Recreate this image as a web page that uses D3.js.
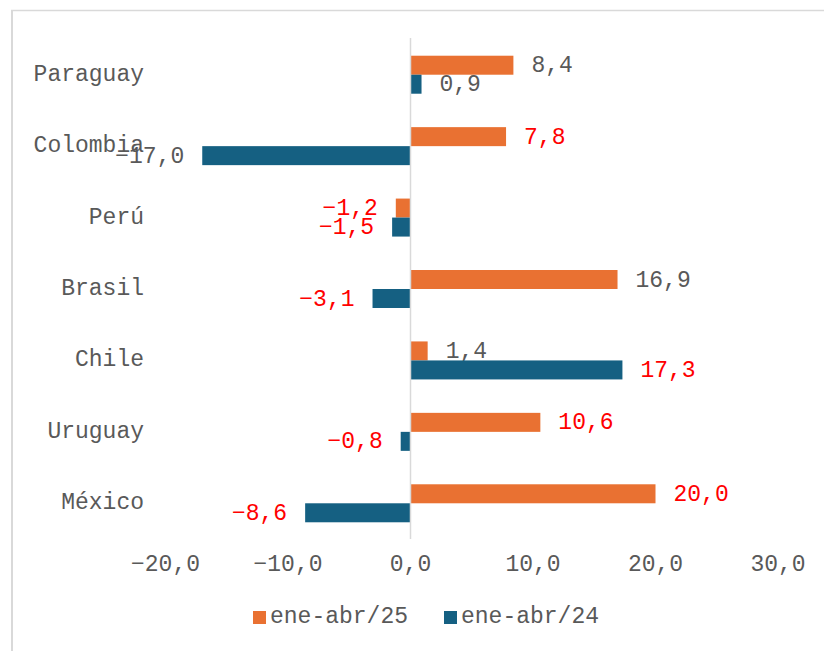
<!DOCTYPE html>
<html>
<head>
<meta charset="utf-8">
<script src="https://cdn.jsdelivr.net/npm/d3@7"></script>
<style>
  body { margin: 0; background: #fff; }
  svg { display: block; }
  text { font-family: "Liberation Mono", "Courier New", monospace; }
</style>
</head>
<body>
<div id="chart"></div>
<script>
// data
const countries = ['Paraguay', 'Colombia', 'Perú', 'Brasil', 'Chile', 'Uruguay', 'México'];
const values25 = [8.4, 7.8, -1.2, 16.9, 1.4, 10.6, 20.0];
const values24 = [0.9, -17.0, -1.5, -3.1, 17.3, -0.8, -8.6];
const seriesNames = ['ene-abr/25', 'ene-abr/24'];
const xTicks = [-20, -10, 0, 10, 20, 30];

// which labels are drawn in red (per series, by country)
const redLabels = {
  'ene-abr/25': ['Colombia', 'Perú', 'Uruguay', 'México'],
  'ene-abr/24': ['Perú', 'Brasil', 'Chile', 'Uruguay', 'México'],
};

const colors = ['#E97132', '#156082'];
const grey = '#595959';
const fs = 23;

const W = 824;
const H = 651;

const svg = d3.select('#chart').append('svg')
  .attr('width', W)
  .attr('height', H);

// chart frame (only top and left edge are in view)
svg.append('line')
  .attr('x1', 11).attr('x2', W).attr('y1', 10.5).attr('y2', 10.5)
  .attr('stroke', '#d9d9d9').attr('stroke-width', 1.5);
svg.append('line')
  .attr('x1', 12).attr('x2', 12).attr('y1', 10).attr('y2', H)
  .attr('stroke', '#d9d9d9').attr('stroke-width', 2);

const x = d3.scaleLinear().domain([-20, 30]).range([165.5, 778]);
const y = d3.scaleBand().domain(countries).range([39, 539]);
const inner = d3.scaleBand().domain(seriesNames).range([y.bandwidth() / 2 - 19, y.bandwidth() / 2 + 19]);

const fmt = v => d3.format('.1f')(v).replace('.', ',').replace('-', '\u2212');

const rows = seriesNames.map((s, i) => ({
  name: s,
  color: colors[i],
  values: countries.map((c, j) => ({ country: c, value: (i === 0 ? values25 : values24)[j] })),
}));

// bars
const groups = svg.selectAll('.series')
  .data(rows)
  .enter()
  .append('g')
  .attr('class', 'series');

groups.selectAll('rect')
  .data(d => d.values.map(v => ({ ...v, series: d.name, color: d.color })))
  .enter()
  .append('rect')
  .attr('x', d => x(Math.min(0, d.value)))
  .attr('width', d => Math.abs(x(d.value) - x(0)))
  .attr('y', d => y(d.country) + inner(d.series))
  .attr('height', inner.bandwidth())
  .attr('fill', d => d.color);

// data labels
groups.selectAll('text')
  .data(d => d.values.map(v => ({ ...v, series: d.name })))
  .enter()
  .append('text')
  .attr('x', d => (d.value >= 0 ? x(d.value) + 18 : x(d.value) - 18))
  .attr('y', d => y(d.country) + inner(d.series) + inner.bandwidth() / 2 + 1)
  .attr('text-anchor', d => (d.value >= 0 ? 'start' : 'end'))
  .attr('dominant-baseline', 'central')
  .attr('font-size', fs)
  .attr('fill', d => (redLabels[d.series].includes(d.country) ? '#FF0000' : grey))
  .text(d => fmt(d.value));

// zero line
svg.append('line')
  .attr('x1', x(0)).attr('x2', x(0))
  .attr('y1', 38).attr('y2', 539)
  .attr('stroke', '#d9d9d9').attr('stroke-width', 1.5);

// category labels
svg.selectAll('.cat')
  .data(countries)
  .enter()
  .append('text')
  .attr('class', 'cat')
  .attr('x', 144)
  .attr('y', d => y(d) + y.bandwidth() / 2)
  .attr('text-anchor', 'end')
  .attr('dominant-baseline', 'central')
  .attr('font-size', fs)
  .attr('fill', grey)
  .text(d => d);

// x axis tick labels
svg.selectAll('.tick')
  .data(xTicks)
  .enter()
  .append('text')
  .attr('class', 'tick')
  .attr('x', d => x(d))
  .attr('y', 565)
  .attr('text-anchor', 'middle')
  .attr('dominant-baseline', 'central')
  .attr('font-size', fs)
  .attr('fill', grey)
  .text(d => d3.format('.1f')(d).replace('.', ','));

// legend
const legend = svg.append('g').attr('transform', 'translate(253,617)');
const lx = [0, 191];
seriesNames.forEach((s, i) => {
  legend.append('rect')
    .attr('x', lx[i]).attr('y', -6)
    .attr('width', 13).attr('height', 13)
    .attr('fill', colors[i]);
  legend.append('text')
    .attr('x', lx[i] + 17).attr('y', 0)
    .attr('dominant-baseline', 'central')
    .attr('font-size', fs)
    .attr('fill', grey)
    .text(s);
});
</script>
</body>
</html>
